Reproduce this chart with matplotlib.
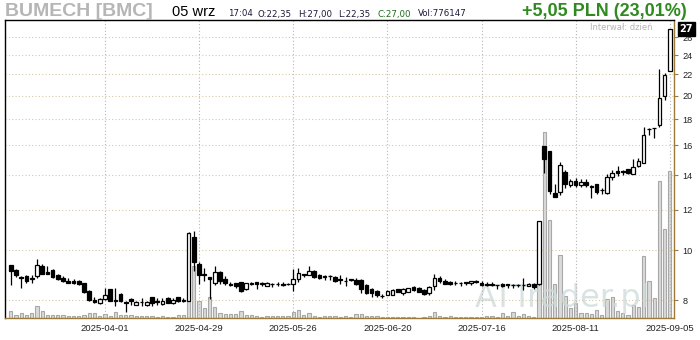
import numpy as np
import pandas as pd
import matplotlib
matplotlib.use("Agg")
import matplotlib.pyplot as plt
from matplotlib.ticker import NullLocator, FixedLocator, FixedFormatter

# ---------------- data ----------------
holidays = ['2025-04-18', '2025-04-21', '2025-05-01', '2025-06-19', '2025-08-15']
dates = pd.bdate_range('2025-03-06', '2025-09-05', freq='C', holidays=holidays)

opens = [9.37, 9.16, 8.87, 8.91, 8.78, 8.91, 9.31, 9.06, 9.16, 8.96,
         8.82, 8.72, 8.72, 8.72, 8.62, 8.34, 8.01, 7.88, 8.05, 8.41,
         8.01, 8.22, 7.93, 8.03, 7.84, 7.93, 7.82, 8.10, 7.95, 7.86,
         8.07, 7.90, 8.10, 7.98, 7.98, 10.60, 9.40, 9.00, 8.86, 8.65,
         9.08, 8.80, 8.59, 8.62, 8.66, 8.40, 8.64, 8.67, 8.61, 8.53,
         8.60, 8.58, 8.60, 8.60, 8.58, 8.80, 9.00, 8.96, 9.13, 8.94,
         8.88, 8.90, 8.88, 8.81, 8.72, 8.78, 8.76, 8.74, 8.55, 8.40,
         8.34, 8.15, 8.20, 8.20, 8.40, 8.26, 8.30, 8.48, 8.45, 8.38,
         8.24, 8.50, 8.83, 8.72, 8.66, 8.65, 8.63, 8.65, 8.64, 8.73,
         8.65, 8.58, 8.58, 8.55, 8.58, 8.58, 8.57, 8.57, 8.55, 8.53,
         8.58, 8.58, 15.96, 15.60, 12.91, 12.97, 14.22, 13.42, 13.64, 13.38,
         13.60, 13.32, 13.44, 13.12, 12.91, 13.90, 14.25, 14.27, 14.39, 14.10,
         14.60, 14.81, 17.20, 17.30, 17.53, 19.97, 22.35]
highs = [9.37, 9.20, 8.91, 8.93, 8.95, 9.60, 9.40, 9.30, 9.20, 9.00,
         8.92, 8.84, 8.79, 8.76, 8.63, 8.38, 8.11, 8.08, 8.44, 8.42,
         8.44, 8.25, 7.96, 8.08, 7.96, 8.08, 7.95, 8.12, 8.07, 8.06,
         8.10, 8.09, 8.12, 8.06, 10.85, 10.90, 9.48, 9.23, 8.86, 9.30,
         9.12, 8.92, 8.69, 8.65, 8.69, 8.65, 8.67, 8.69, 8.69, 8.67,
         8.62, 8.66, 8.66, 8.64, 9.18, 9.23, 9.00, 9.30, 9.17, 8.98,
         8.94, 8.94, 8.91, 8.94, 8.85, 8.79, 8.84, 8.80, 8.58, 8.43,
         8.38, 8.22, 8.38, 8.40, 8.42, 8.45, 8.46, 8.50, 8.48, 8.42,
         8.51, 8.97, 8.90, 8.78, 8.70, 8.70, 8.66, 8.68, 8.73, 8.75,
         8.70, 8.66, 8.66, 8.56, 8.62, 8.58, 8.58, 8.58, 8.83, 8.62,
         8.62, 11.42, 15.96, 15.60, 13.46, 14.86, 14.32, 13.74, 13.80, 13.74,
         13.74, 13.40, 13.46, 13.20, 14.10, 14.32, 14.60, 14.35, 14.40, 15.07,
         15.10, 17.40, 17.30, 17.32, 22.50, 22.10, 27.00]
lows = [8.55, 8.85, 8.46, 8.62, 8.65, 8.82, 8.98, 8.98, 8.82, 8.75,
        8.67, 8.64, 8.60, 8.56, 8.25, 7.97, 7.89, 7.86, 8.01, 7.95,
        7.79, 7.93, 7.57, 7.82, 7.82, 7.78, 7.80, 7.78, 7.84, 7.84,
        7.88, 7.87, 7.93, 7.93, 7.97, 9.10, 8.60, 8.72, 8.05, 8.55,
        8.60, 8.55, 8.50, 8.46, 8.30, 8.38, 8.55, 8.42, 8.53, 8.50,
        8.49, 8.50, 8.50, 8.55, 8.34, 8.67, 8.88, 8.94, 8.84, 8.80,
        8.74, 8.76, 8.66, 8.61, 8.52, 8.70, 8.55, 8.25, 8.22, 8.10,
        8.12, 8.08, 8.17, 8.17, 8.28, 8.20, 8.28, 8.34, 8.28, 8.18,
        8.20, 8.36, 8.65, 8.58, 8.56, 8.55, 8.52, 8.55, 8.56, 8.63,
        8.50, 8.50, 8.52, 8.40, 8.48, 8.45, 8.45, 8.48, 8.36, 8.50,
        8.40, 8.55, 14.16, 12.87, 12.68, 12.81, 13.20, 13.30, 13.27, 13.27,
        13.27, 12.65, 12.87, 12.87, 12.87, 13.69, 13.95, 14.00, 14.08, 14.10,
        14.50, 14.78, 16.77, 16.52, 17.40, 19.60, 22.35]
closes = [9.12, 8.96, 8.82, 8.72, 8.83, 9.35, 9.00, 9.00, 8.87, 8.80,
          8.73, 8.64, 8.65, 8.58, 8.29, 8.01, 7.93, 8.04, 8.18, 7.98,
          7.98, 7.98, 7.88, 7.96, 7.92, 7.92, 7.93, 7.90, 7.92, 7.96,
          7.90, 8.01, 7.98, 8.00, 10.82, 9.48, 8.96, 8.93, 8.78, 9.08,
          8.73, 8.65, 8.55, 8.52, 8.33, 8.62, 8.58, 8.58, 8.62, 8.62,
          8.58, 8.59, 8.55, 8.58, 8.80, 9.04, 8.93, 9.13, 8.87, 8.84,
          8.89, 8.90, 8.70, 8.75, 8.72, 8.74, 8.60, 8.41, 8.26, 8.26,
          8.17, 8.15, 8.34, 8.36, 8.30, 8.42, 8.44, 8.36, 8.30, 8.23,
          8.48, 8.83, 8.70, 8.60, 8.58, 8.64, 8.63, 8.66, 8.70, 8.66,
          8.55, 8.55, 8.55, 8.54, 8.52, 8.57, 8.57, 8.56, 8.55, 8.60,
          8.49, 11.40, 15.05, 13.06, 12.71, 14.66, 13.44, 13.64, 13.38, 13.58,
          13.42, 13.30, 13.00, 13.08, 13.90, 14.13, 14.13, 14.18, 14.12, 14.50,
          14.95, 16.77, 17.22, 17.28, 19.77, 21.95, 27.00]
volume_k = [35, 14, 26, 17, 28, 63, 35, 16, 16, 16,
            16, 12, 12, 9, 14, 26, 26, 11, 21, 11,
            32, 14, 16, 16, 9, 9, 9, 11, 7, 11,
            7, 7, 16, 16, 320, 275, 91, 53, 109, 58,
            26, 21, 21, 21, 35, 14, 14, 11, 7, 11,
            11, 11, 11, 11, 32, 42, 16, 28, 11, 4,
            9, 9, 9, 7, 11, 5, 21, 21, 11, 11,
            9, 5, 7, 5, 5, 7, 5, 4, 2, 7,
            11, 32, 9, 7, 9, 7, 5, 5, 7, 5,
            5, 11, 11, 7, 25, 11, 30, 11, 20, 11,
            4, 500, 980, 517, 180, 333, 116, 51, 78, 25,
            25, 20, 42, 16, 99, 112, 39, 25, 16, 67,
            60, 327, 195, 104, 723, 470, 776.147]

date_labels = ['2025-04-01', '2025-04-29', '2025-05-26', '2025-06-20',
               '2025-07-16', '2025-08-11', '2025-09-05']
price_ticks = [8, 10, 12, 14, 16, 18, 20, 22, 24, 26]
last_price = '27'

# ---------------- figure ----------------
W, H = 700, 340
fig = plt.figure(figsize=(7, 3.4), dpi=100)
fig.patch.set_facecolor('white')

def fx(px):
    return px / W

def fy(py):
    return 1 - py / H

L, R, T, B = 5, 674, 20, 318
ax2 = fig.add_axes([fx(L), fy(B), (R - L) / W, (B - T) / H])
ax = fig.add_axes([fx(L), fy(B), (R - L) / W, (B - T) / H], sharex=ax2)
ax.set_zorder(3)
ax2.set_zorder(1)
ax.patch.set_visible(False)

x = np.arange(len(dates))
o = np.array(opens); h = np.array(highs); l = np.array(lows); c = np.array(closes)
v = np.array(volume_k) * 1000

brown = '#9a7b3a'

# volume
ax2.bar(x, v, width=0.62, color='#dadada', edgecolor='#a8a8a8', linewidth=0.8, zorder=2)
ax2.set_ylim(0, 776147 * (B - T) / 147)
ax2.set_yticks([])
for s in ax2.spines.values():
    s.set_visible(False)
ax2.tick_params(axis='x', length=0, labelbottom=False)

# watermark
fig.text(fx(475), fy(298), 'ATTrader.pl', fontsize=23, color='#cddada', alpha=0.75,
         ha='left', va='center', family='DejaVu Sans', zorder=2)

# candles
ax.vlines(x, l, h, color='black', linewidth=0.9, zorder=3)
up = c >= o
bottoms = np.minimum(o, c)
heights = np.abs(c - o)
ax.bar(x[up], heights[up], bottom=bottoms[up], width=0.7, color='white',
       edgecolor='black', linewidth=0.9, zorder=4)
ax.bar(x[~up], heights[~up], bottom=bottoms[~up], width=0.7, color='black',
       edgecolor='black', linewidth=0.9, zorder=4)

ax.set_yscale('log')
ax.set_ylim(7.38, 28.08)
ax.set_xlim(-1.1, 126.8)

ax.yaxis.tick_right()
ax.yaxis.set_major_locator(FixedLocator(price_ticks))
ax.yaxis.set_major_formatter(FixedFormatter([str(t) for t in price_ticks]))
ax.yaxis.set_minor_locator(NullLocator())
ax.tick_params(axis='y', which='major', length=3, width=0.8, color=brown,
               labelsize=6.6, labelcolor='#222222', pad=3)
for lab in ax.get_yticklabels():
    lab.set_family('Liberation Sans')

tick_pos = [list(dates.strftime('%Y-%m-%d')).index(d) for d in date_labels]
ax.set_xticks(tick_pos)
ax.set_xticklabels(date_labels, fontsize=6.8, color='#222222', family='Liberation Sans')
ax.tick_params(axis='x', length=0, pad=4)

ax.grid(axis='y', which='major', linestyle=(0, (1, 2)), color='#d6caa6', linewidth=0.8, zorder=0)
ax.grid(axis='x', which='major', linestyle=(0, (1, 2)), color='#b5b5b5', linewidth=0.8, zorder=0)
ax.set_axisbelow(True)

ax.spines['left'].set_color('black')
ax.spines['top'].set_color('black')
ax.spines['right'].set_color(brown)
ax.spines['bottom'].set_color(brown)
for s in ax.spines.values():
    s.set_linewidth(1.0)

# last price box
fig.text(fx(686), fy(29), last_price, fontsize=7, color='white', ha='center', va='center',
         fontweight='bold', family='DejaVu Sans',
         bbox=dict(boxstyle='square,pad=0.18', facecolor='black', edgecolor='black'), zorder=5)

# interval label
fig.text(fx(653), fy(27), 'Interwał: dzień', fontsize=6, color='#b4b4b4', ha='right', va='center',
         family='DejaVu Sans')

# header
fig.text(fx(5), fy(11), 'BUMECH [BMC]', fontsize=14, fontweight='bold', color='#b6b6b6',
         ha='left', va='center', family='Liberation Sans')
fig.text(fx(172), fy(12), '05 wrz', fontsize=10.5, color='black', ha='left', va='center',
         family='Liberation Sans')
hdr = [('17:04', 228, '#1a1a3a'), ('O:22,35', 257, '#1a1a3a'), ('H:27,00', 298, '#1a1a3a'),
       ('L:22,35', 338, '#1a1a3a'), ('C:27,00', 377, '#1d6b1d'), ('Vol:776147', 418, '#1a1a3a')]
for txt, px, col in hdr:
    fig.text(fx(px), fy(14), txt, fontsize=6.2, color=col, ha='left', va='center',
             family='DejaVu Sans')
fig.text(fx(687), fy(12), '+5,05 PLN (23,01%)', fontsize=13, fontweight='bold', color='#2f8a1f',
         ha='right', va='center', family='Liberation Sans')

fig.savefig('out.png', dpi=100, facecolor='white')
